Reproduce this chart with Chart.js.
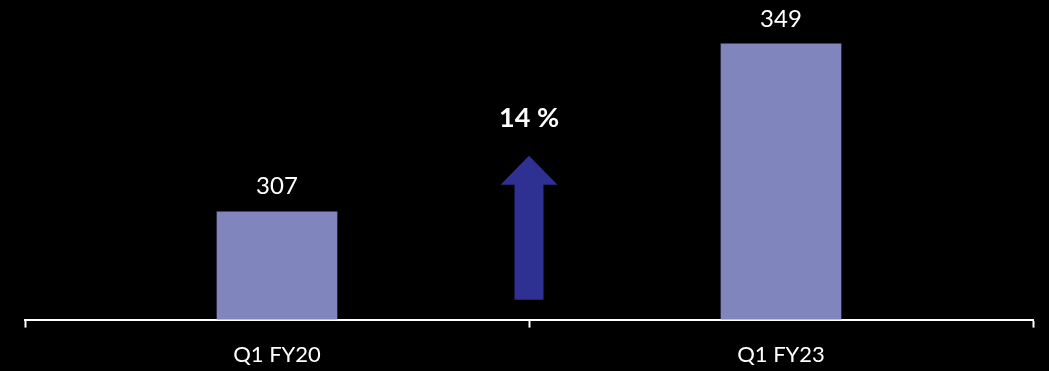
<!DOCTYPE html>
<html>
<head>
<meta charset="utf-8">
<script src="https://cdn.jsdelivr.net/npm/chart.js@4/dist/chart.umd.min.js"></script>
<style>
  html, body { margin: 0; padding: 0; background: #000; }
  #wrap { width: 1049px; height: 371px; }
</style>
</head>
<body>
<div id="wrap"><canvas id="grafico"></canvas></div>
<script>
const categorias = ['Q1 FY20', 'Q1 FY23'];
const valores = [307, 349];
// flecha entre las dos barras (en unidades del eje Y)
const flechaDesde = 285;
const flechaHasta = 321;

const crecimiento = Math.round((valores[1] - valores[0]) / valores[0] * 100) + ' %';

const fuente = 'Lato, "Open Sans", sans-serif';

const etiquetasPlugin = {
    id: 'etiquetas',
    afterDatasetsDraw(chart) {
        const ctx = chart.ctx;
        const meta = chart.getDatasetMeta(0);
        ctx.save();
        ctx.fillStyle = '#ffffff';
        ctx.font = '24px ' + fuente;
        ctx.textAlign = 'center';
        ctx.textBaseline = 'bottom';
        meta.data.forEach((bar, i) => {
            ctx.fillText(String(valores[i]), bar.x, bar.y - 13);
        });

        // flecha de crecimiento
        const x = chart.scales.x.getPixelForValue(0.5);
        const yTop = chart.scales.y.getPixelForValue(flechaHasta);
        const yBot = chart.scales.y.getPixelForValue(flechaDesde);
        const cabeza = 29;
        ctx.fillStyle = '#2E3192';
        ctx.beginPath();
        ctx.moveTo(x, yTop);
        ctx.lineTo(x + 28.5, yTop + cabeza);
        ctx.lineTo(x + 14.5, yTop + cabeza);
        ctx.lineTo(x + 14.5, yBot);
        ctx.lineTo(x - 14.5, yBot);
        ctx.lineTo(x - 14.5, yTop + cabeza);
        ctx.lineTo(x - 28.5, yTop + cabeza);
        ctx.closePath();
        ctx.fill();

        ctx.fillStyle = '#ffffff';
        ctx.font = 'bold 27px ' + fuente;
        ctx.textBaseline = 'middle';
        ctx.fillText(crecimiento, x, yTop - 38);
        ctx.restore();
    }
};

new Chart(document.getElementById('grafico'), {
    type: 'bar',
    data: {
        labels: categorias,
        datasets: [{
            data: valores,
            backgroundColor: '#8185BE',
            barThickness: 120
        }]
    },
    options: {
        responsive: true,
        maintainAspectRatio: false,
        animation: false,
        devicePixelRatio: 1,
        layout: { padding: { left: 25, right: 16, top: 0, bottom: -11 } },
        plugins: {
            legend: { display: false },
            tooltip: { enabled: false }
        },
        scales: {
            y: {
                display: false,
                min: 280,
                max: 360
            },
            x: {
                border: { display: true, color: '#ffffff', width: 2 },
                grid: {
                    display: true,
                    drawOnChartArea: false,
                    drawTicks: true,
                    tickLength: 8,
                    tickWidth: 2,
                    color: '#ffffff',
                    offset: true
                },
                ticks: {
                    color: '#ffffff',
                    padding: 14,
                    font: { family: fuente, size: 22 }
                }
            }
        }
    },
    plugins: [etiquetasPlugin]
});
</script>
</body>
</html>
